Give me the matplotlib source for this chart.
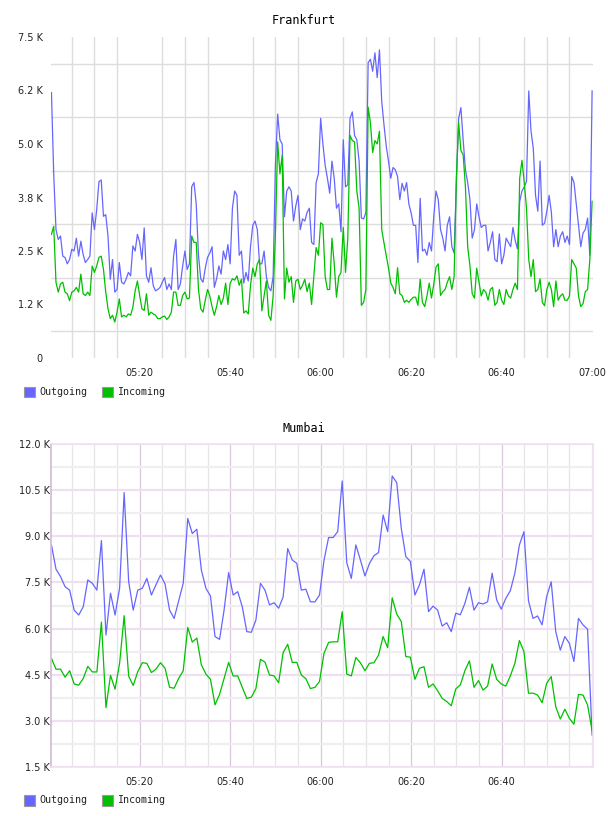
import matplotlib
matplotlib.use("Agg")
import matplotlib.pyplot as plt
from matplotlib.patches import Rectangle
import pandas as pd

# traffic in thousands, Frankfurt sampled every 30 s, Mumbai every minute
fra_out = [
    6.2, 4.3, 3.0, 2.77, 2.85, 2.38, 2.35, 2.2, 2.3, 2.54,
    2.5, 2.8, 2.38, 2.73, 2.42, 2.23, 2.3, 2.38, 3.39, 3.0,
    3.46, 4.12, 4.16, 3.31, 3.35, 2.85, 1.84, 2.3, 1.54, 1.6,
    2.23, 1.77, 1.73, 1.84, 2.0, 1.92, 2.62, 2.5, 2.89, 2.7,
    2.3, 3.04, 1.92, 1.77, 2.11, 1.69, 1.57, 1.6, 1.65, 1.77,
    1.88, 1.6, 1.73, 1.6, 2.38, 2.77, 1.6, 1.73, 2.15, 2.5,
    2.07,
    2.2, 4.0, 4.1, 3.6, 2.4, 1.85, 1.77, 2.1, 2.35, 2.45,
    2.6, 1.65, 1.85, 2.15, 1.96, 2.5, 2.3, 2.65, 2.2, 3.5,
    3.9, 3.8, 2.4, 2.5, 1.75, 2.0, 1.8, 2.6, 3.1, 3.2,
    3.0, 2.2, 2.2, 2.5, 1.9, 1.65, 1.57, 1.9, 4.5, 5.7,
    5.1, 5.0, 3.3, 3.9, 4.0, 3.9, 3.2, 3.55, 3.8, 3.0,
    3.25, 3.2, 3.4, 3.5, 2.7, 2.65, 4.1, 4.3, 5.6, 5.0,
    4.5, 4.2, 3.85, 4.6, 4.2, 3.5, 3.6, 2.95, 5.1, 4.0,
    4.05, 5.6, 5.75, 5.2, 5.1, 4.6, 3.27, 3.25, 3.4, 6.9,
    6.98, 6.7, 7.13, 6.55, 7.2, 6.0, 5.45, 4.95, 4.6, 4.2,
    4.45, 4.4, 4.24, 3.7, 4.08, 3.9, 4.1, 3.6, 3.39, 3.1,
    3.1, 2.23, 3.73, 2.5, 2.54, 2.4, 2.7, 2.5, 3.3, 3.9,
    3.7, 3.0, 2.8, 2.5, 3.1, 3.3, 2.6, 2.45, 4.1, 5.6,
    5.85, 5.1, 4.4, 4.1, 3.7, 2.8, 3.0, 3.6, 3.3, 3.05,
    3.1, 3.1, 2.5, 2.7, 2.95, 2.3, 2.25, 2.9, 2.2, 2.4,
    2.8, 2.7, 2.6, 3.05, 2.75, 2.55, 3.66, 3.9, 4.0, 4.12,
    6.24, 5.3, 4.9, 3.8, 3.43, 4.6, 3.1, 3.15, 3.43, 3.8,
    3.4, 2.6, 3.0, 2.6, 2.85, 2.95, 2.7, 2.85, 2.65, 4.24,
    4.1, 3.6, 3.1, 2.6, 2.92, 3.0, 3.27, 2.4, 6.24,
]
fra_in = [
    2.89, 3.08, 1.77, 1.54, 1.73, 1.77, 1.54, 1.5, 1.34, 1.54,
    1.57, 1.65, 1.54, 1.96, 1.5, 1.46, 1.54, 1.46, 2.15, 2.0,
    2.15, 2.35, 2.38, 2.07, 1.54, 1.15, 0.92, 1.0, 0.84, 1.07,
    1.38, 0.96, 1.0, 0.96, 1.03, 1.0, 1.19, 1.57, 1.8, 1.46,
    1.15, 1.11, 1.5, 1.0, 1.07, 1.03, 1.0, 0.92, 0.92, 0.96,
    0.98, 0.9, 0.96, 1.07, 1.54, 1.54, 1.23, 1.23, 1.46, 1.54,
    1.38,
    1.4, 2.85, 2.7, 2.7, 1.6, 1.15, 1.07, 1.35, 1.6, 1.45,
    1.2, 1.0, 1.2, 1.46, 1.25, 1.4, 1.75, 1.25, 1.75, 1.85,
    1.82, 1.92, 1.7, 1.84, 1.05, 1.1, 1.03, 1.7, 2.1, 1.9,
    2.2, 2.3, 1.1, 1.45, 1.8, 1.0, 0.88, 1.45, 2.9, 5.05,
    4.3, 4.74, 1.38, 2.1, 1.77, 1.9, 1.3, 1.8, 1.84, 1.6,
    1.7, 1.84, 1.55, 1.75, 1.25, 1.9, 2.58, 2.4, 3.16, 3.12,
    1.9, 1.6, 1.6, 2.8, 2.2, 1.42, 1.9, 2.0, 3.05, 2.0,
    2.8, 5.2, 5.08, 5.05, 3.9, 3.5, 1.23, 1.3, 1.6, 5.86,
    5.5, 4.8, 5.08, 5.0, 5.3, 3.0, 2.69, 2.4, 2.1, 1.75,
    1.65, 1.5, 2.11, 1.5, 1.46, 1.3, 1.35, 1.3, 1.37, 1.42,
    1.42, 1.23, 1.84, 1.3, 1.2, 1.45, 1.75, 1.4, 1.72, 2.12,
    2.2, 1.46, 1.55, 1.6, 1.77, 1.9, 1.6, 1.9, 4.2, 5.5,
    4.85, 4.75, 4.0, 2.6, 2.15, 1.5, 1.4, 2.1, 1.77, 1.45,
    1.6, 1.54, 1.35, 1.6, 1.65, 1.23, 1.3, 1.6, 1.35, 1.25,
    1.6, 1.45, 1.4, 1.6, 1.75, 1.6, 4.2, 4.62, 4.1, 3.5,
    2.3, 1.9, 2.3, 1.55, 1.6, 1.85, 1.3, 1.22, 1.6, 1.77,
    1.6, 1.2, 1.8, 1.35, 1.45, 1.5, 1.35, 1.35, 1.45, 2.3,
    2.2, 2.1, 1.45, 1.2, 1.27, 1.55, 1.6, 2.3, 3.66,
]
mum_out = [
    8.72, 7.93, 7.69, 7.36, 7.25, 6.6, 6.44, 6.71, 7.58, 7.47,
    7.25, 8.86, 5.79, 7.15, 6.44, 7.31, 10.42, 7.52, 6.6, 7.25,
    7.31, 7.63, 7.09, 7.42, 7.74, 7.45, 6.6, 6.33, 6.9, 7.47,
    9.58, 9.09, 9.23, 7.9, 7.31, 7.06, 5.74, 5.65, 6.6, 7.82,
    7.09, 7.2, 6.71, 5.9, 5.88, 6.28, 7.47, 7.25, 6.77, 6.84,
    6.66, 7.03, 8.6, 8.23, 8.12, 7.25, 7.28, 6.87, 6.87, 7.09,
    8.23, 8.96, 8.96, 9.15, 10.8, 8.14, 7.63, 8.72, 8.23, 7.71,
    8.12, 8.37, 8.47, 9.69, 9.15, 10.96, 10.74, 9.26, 8.34, 8.18,
    7.09, 7.42, 7.93, 6.55, 6.73, 6.6, 6.08, 6.19, 5.9, 6.5,
    6.45, 6.82, 7.34, 6.6, 6.84, 6.8, 6.87, 7.8, 6.93, 6.63,
    6.98, 7.23, 7.8, 8.72, 9.15, 6.9, 6.33, 6.41, 6.12, 7.04,
    7.52, 5.9, 5.3, 5.74, 5.52, 4.93, 6.33, 6.12, 5.98, 2.54,
]
mum_in = [
    5.03, 4.68, 4.68, 4.42, 4.63, 4.2, 4.16, 4.38, 4.77, 4.59,
    4.59, 6.21, 3.43, 4.48, 4.03, 4.87, 6.42, 4.45, 4.15, 4.6,
    4.89, 4.87, 4.57, 4.68, 4.89, 4.71, 4.09, 4.06, 4.38, 4.63,
    6.04, 5.56, 5.69, 4.82, 4.52, 4.35, 3.52, 3.86, 4.38, 4.9,
    4.46, 4.46, 4.09, 3.73, 3.77, 4.05, 5.0, 4.91, 4.49, 4.46,
    4.24, 5.22, 5.49, 4.9, 4.9, 4.49, 4.37, 4.05, 4.09, 4.28,
    5.2, 5.55, 5.57, 5.57, 6.55, 4.52, 4.46, 5.06, 4.89, 4.63,
    4.87, 4.89, 5.14, 5.74, 5.38, 7.0, 6.47, 6.23, 5.09, 5.07,
    4.35, 4.71, 4.76, 4.09, 4.2, 3.98, 3.73, 3.63, 3.49, 4.04,
    4.17, 4.63, 4.95, 4.09, 4.31, 4.0, 4.13, 4.85, 4.35, 4.2,
    4.13, 4.46, 4.87, 5.61, 5.25, 3.9, 3.9, 3.84, 3.59, 4.22,
    4.44, 3.46, 3.06, 3.38, 3.08, 2.89, 3.86, 3.84, 3.52, 2.68,
]

series = ["Outgoing", "Incoming"]
colors = ["#6666ff", "#00c000"]

fra_yticks = [0, 1.25, 2.5, 3.75, 5.0, 6.25, 7.5]
fra_ylabels = ["0", "1.2 K", "2.5 K", "3.8 K", "5.0 K", "6.2 K", "7.5 K"]
mum_yticks = [1.5, 3.0, 4.5, 6.0, 7.5, 9.0, 10.5, 12.0]
mum_ylabels = ["1.5 K", "3.0 K", "4.5 K", "6.0 K", "7.5 K", "9.0 K", "10.5 K", "12.0 K"]
fra_xticks = ["05:20", "05:40", "06:00", "06:20", "06:40", "07:00"]
mum_xticks = ["05:20", "05:40", "06:00", "06:20", "06:40"]

day = "2024-01-01 "
fra_t = pd.date_range(day + "05:00:30", day + "07:00:00", periods=len(fra_out))
mum_t = pd.date_range(day + "05:00:30", day + "07:00:00", periods=len(mum_out))
x_lo, x_hi = pd.Timestamp(day + "05:00:24"), pd.Timestamp(day + "07:00:12")
five_min = pd.date_range(day + "05:05", day + "07:00", freq="5min")

W, H = 608, 816
fig = plt.figure(figsize=(W / 100, H / 100), dpi=100)
mono = "DejaVu Sans Mono"


def box(l, t, r, b):
    return [l / W, 1 - b / H, (r - l) / W, (b - t) / H]


def halfway(ticks):
    return [(a + b) / 2 for a, b in zip(ticks, ticks[1:])]


def legend(yc):
    for x, name, c in zip([24, 102], series, colors):
        fig.add_artist(Rectangle((x / W, 1 - (yc + 5.5) / H), 10.5 / W, 11 / H,
                                 facecolor=c, edgecolor="#999999", lw=0.8,
                                 transform=fig.transFigure))
        fig.text((x + 15) / W, 1 - yc / H, name, ha="left", va="center",
                 family=mono, fontsize=7.2, color="#222222")


def draw(ax, t, out, inc, xticks):
    ax.plot(t, out, color=colors[0], lw=0.9)
    ax.plot(t, inc, color=colors[1], lw=0.9)
    ax.set_xlim(x_lo, x_hi)
    ax.set_xticks([pd.Timestamp(day + s) for s in xticks])
    ax.set_xticklabels(xticks)
    ax.set_xticks(five_min, minor=True)
    ax.set_axisbelow(True)
    ax.tick_params(which="both", length=0, labelsize=7, colors="#222222")
    ax.tick_params(axis="x", pad=7)


# Frankfurt
ax1 = fig.add_axes(box(51, 37, 593, 358))
draw(ax1, fra_t, fra_out, fra_in, fra_xticks)
ax1.set_ylim(fra_yticks[0], fra_yticks[-1])
ax1.set_yticks(fra_yticks)
ax1.set_yticklabels(fra_ylabels)
ax1.set_yticks(halfway(fra_yticks), minor=True)
ax1.tick_params(axis="y", pad=6)
ax1.grid(which="minor", color="#dddddd", lw=1.0)
for s in ax1.spines.values():
    s.set_visible(False)
fig.text(0.5, 1 - 20 / H, "Frankfurt", ha="center", va="center", family=mono, fontsize=8.5)
legend(392)

# Mumbai
ax2 = fig.add_axes(box(51, 444, 593, 767))
draw(ax2, mum_t, mum_out, mum_in, mum_xticks)
ax2.set_ylim(mum_yticks[0], mum_yticks[-1])
ax2.set_yticks(mum_yticks)
ax2.set_yticklabels(mum_ylabels)
ax2.set_yticks(halfway(mum_yticks), minor=True)
ax2.tick_params(axis="y", pad=1)
ax2.grid(which="major", axis="y", color="#eee0ee", lw=1.6)
ax2.grid(which="minor", axis="y", color="#efefef", lw=1.6)
ax2.grid(which="major", axis="x", color="#dcc6dc", lw=0.9)
ax2.grid(which="minor", axis="x", color="#e6e6e6", lw=0.9)
for side, s in ax2.spines.items():
    s.set_color("#d4b8d8" if side == "left" else "#eee0ee")
    s.set_linewidth(1.2)
fig.text(0.5, 1 - 429 / H, "Mumbai", ha="center", va="center", family=mono, fontsize=8.5)
legend(800)

fig.savefig("out.png", dpi=100)
